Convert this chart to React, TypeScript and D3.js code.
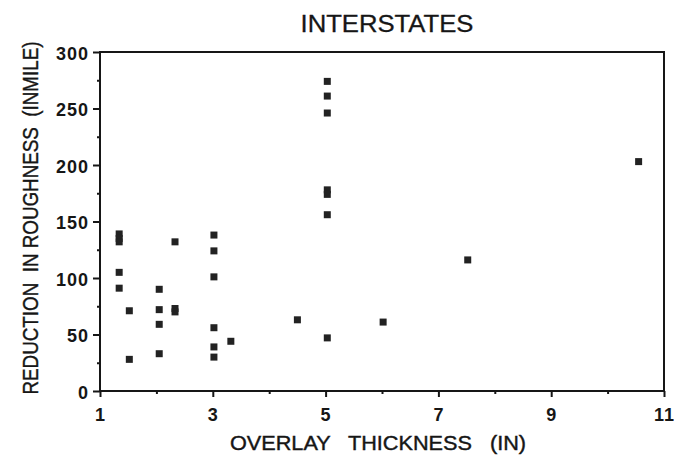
import { useEffect, useRef } from "react";
import * as d3 from "d3";

// overlay thickness (in) and reduction in roughness (in/mile)
const thickness = [
  1.34, 1.34, 1.34, 1.34, 1.34, 1.52, 1.52, 2.05, 2.05, 2.05, 2.05, 2.33, 2.33, 2.33,
  3.02, 3.02, 3.02, 3.02, 3.02, 3.02, 3.32, 4.5, 5.03, 5.03, 5.03, 5.03, 5.03, 5.03,
  5.03, 6.02, 7.52, 10.55,
];
const reduction = [
  139, 135, 132, 105, 91, 71, 28, 90, 72, 59, 33, 132, 73, 70,
  138, 124, 101, 56, 39, 30, 44, 63, 274, 261, 246, 178, 174, 156,
  47, 61, 116, 203,
];

const xTicks = [1, 3, 5, 7, 9, 11];
const xMinorTicks = [2, 4, 6, 8, 10];
const yTicks = [0, 50, 100, 150, 200, 250, 300];
const yMinorTicks = [25, 75, 125, 175, 225, 275];

const title = "INTERSTATES";
const xLabel = "OVERLAY   THICKNESS   (IN)";
const yLabel = "REDUCTION  IN ROUGHNESS  (INMILE)";

const width = 674;
const height = 459;
const ink = "#161616";
const font = "'Liberation Sans', Arial, Helvetica, sans-serif";

export default function App() {
  const svgRef = useRef<SVGSVGElement | null>(null);

  useEffect(() => {
    if (!svgRef.current) return;
    const svg = d3.select(svgRef.current);
    svg.selectAll("*").remove();

    const x = d3.scaleLinear().domain([1, 11]).range([100, 664]);
    const y = d3.scaleLinear().domain([0, 300]).range([391, 52]);

    // frame
    svg
      .append("rect")
      .attr("x", x(1))
      .attr("y", y(300))
      .attr("width", x(11) - x(1))
      .attr("height", y(0) - y(300))
      .attr("fill", "none")
      .attr("stroke", ink)
      .attr("stroke-width", 2);

    const styleAxis = (g: any) => {
      g.select(".domain").remove();
      g.selectAll("line").attr("stroke", ink).attr("stroke-width", 2);
      g.attr("font-family", font).attr("font-size", 18).attr("font-weight", 700);
      g.selectAll("text").attr("fill", ink);
    };

    const gx = svg
      .append("g")
      .attr("transform", `translate(0,${y(0)})`)
      .call(d3.axisBottom(x).tickValues(xTicks).tickSize(6).tickSizeOuter(0).tickPadding(14));
    styleAxis(gx);
    gx.selectAll("text").attr("dy", "0.71em").attr("y", 17).attr("letter-spacing", 1);

    const gxMinor = svg
      .append("g")
      .attr("transform", `translate(0,${y(0)})`)
      .call(d3.axisBottom(x).tickValues(xMinorTicks).tickSize(3).tickSizeOuter(0).tickFormat(() => ""));
    styleAxis(gxMinor);

    const gy = svg
      .append("g")
      .attr("transform", `translate(${x(1)},0)`)
      .call(d3.axisLeft(y).tickValues(yTicks).tickSize(7).tickSizeOuter(0).tickPadding(4));
    styleAxis(gy);
    gy.selectAll("text").attr("letter-spacing", 1).attr("dy", "0.4em");

    const gyMinor = svg
      .append("g")
      .attr("transform", `translate(${x(1)},0)`)
      .call(d3.axisLeft(y).tickValues(yMinorTicks).tickSize(3).tickSizeOuter(0).tickFormat(() => ""));
    styleAxis(gyMinor);

    // points
    svg
      .append("g")
      .selectAll("rect")
      .data(d3.range(thickness.length))
      .join("rect")
      .attr("x", (i) => x(thickness[i]) - 3.5)
      .attr("y", (i) => y(reduction[i]) - 3.5)
      .attr("width", 7)
      .attr("height", 7)
      .attr("fill", "#222");

    svg
      .append("text")
      .attr("x", 387)
      .attr("y", 32)
      .attr("text-anchor", "middle")
      .attr("font-family", font)
      .attr("font-size", 23)
      .attr("textLength", 173)
      .attr("lengthAdjust", "spacingAndGlyphs")
      .attr("fill", ink)
      .attr("stroke", ink)
      .attr("stroke-width", 0.3)
      .text(title);

    svg
      .append("text")
      .attr("x", 230)
      .attr("y", 450)
      .attr("font-family", font)
      .attr("font-size", 20)
      .attr("textLength", 296)
      .attr("lengthAdjust", "spacingAndGlyphs")
      .style("white-space", "pre")
      .attr("fill", ink)
      .attr("stroke", ink)
      .attr("stroke-width", 0.4)
      .text(xLabel);

    svg
      .append("text")
      .attr("transform", "translate(38,218) rotate(-90)")
      .attr("text-anchor", "middle")
      .attr("font-family", font)
      .attr("font-size", 22)
      .attr("textLength", 353)
      .attr("lengthAdjust", "spacingAndGlyphs")
      .style("white-space", "pre")
      .attr("fill", ink)
      .attr("stroke", ink)
      .attr("stroke-width", 0.4)
      .text(yLabel);
  }, []);

  return (
    <div style={{ position: "absolute", left: 0, top: 0, width, height, background: "#fff" }}>
      <svg ref={svgRef} width={width} height={height} style={{ display: "block" }} />
    </div>
  );
}
